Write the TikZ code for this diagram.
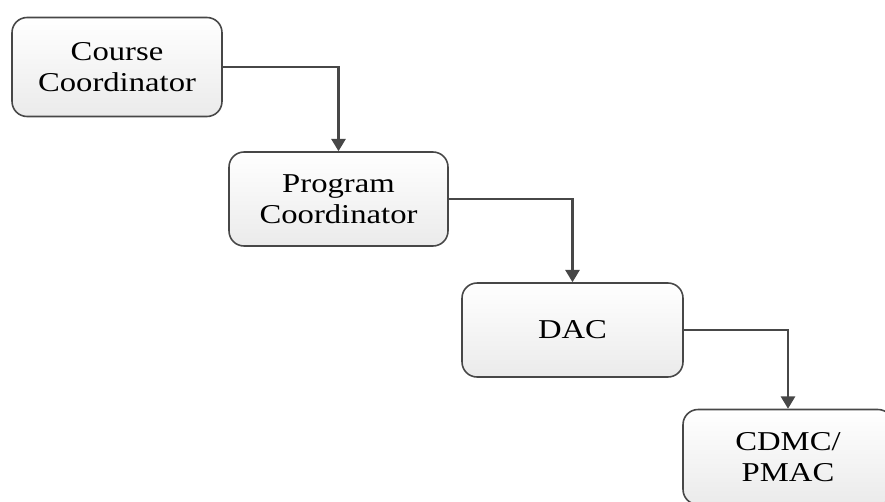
\documentclass[tikz,border=0pt]{standalone}
\usepackage{fontspec}
\setmainfont{Liberation Serif}
\newfontfamily\boxfont[FakeStretch=1.2]{Liberation Serif}
\usepackage{tikz}
\usetikzlibrary{arrows.meta}

\begin{document}
\begin{tikzpicture}[x=0.02cm, y=-0.02cm,
        unit/.style={draw=black!72, line width=0.9pt, rounded corners=0.3cm,
            top color=white, bottom color=black!8, align=center,
            font=\boxfont\fontsize{15.5}{17.5}\selectfont},
        link/.style={draw=black!72, line width=1.4pt, -{Triangle[length=7pt,width=8pt]}}]
        \clip (0,0) rectangle (885,501);
        \fill[white] (0,0) rectangle (885,501);

        \node[unit, minimum width=4.2cm, minimum height=1.98cm] (course) at (117,67) {Course\\Coordinator};
        \node[unit, minimum width=4.38cm, minimum height=1.88cm] (program) at (338.5,199) {Program\\Coordinator};
        \node[unit, minimum width=4.42cm, minimum height=1.88cm] (dac) at (572.5,330) {DAC};
        \node[unit, minimum width=4.2cm, minimum height=1.9cm] (cdmc) at (788,457) {CDMC/\\PMAC};

        \draw[link] (course.east) -| (program.north);
        \draw[link] (program.east) -| (dac.north);
        \draw[link] (dac.east) -| (cdmc.north);
    \end{tikzpicture}
\end{document}
